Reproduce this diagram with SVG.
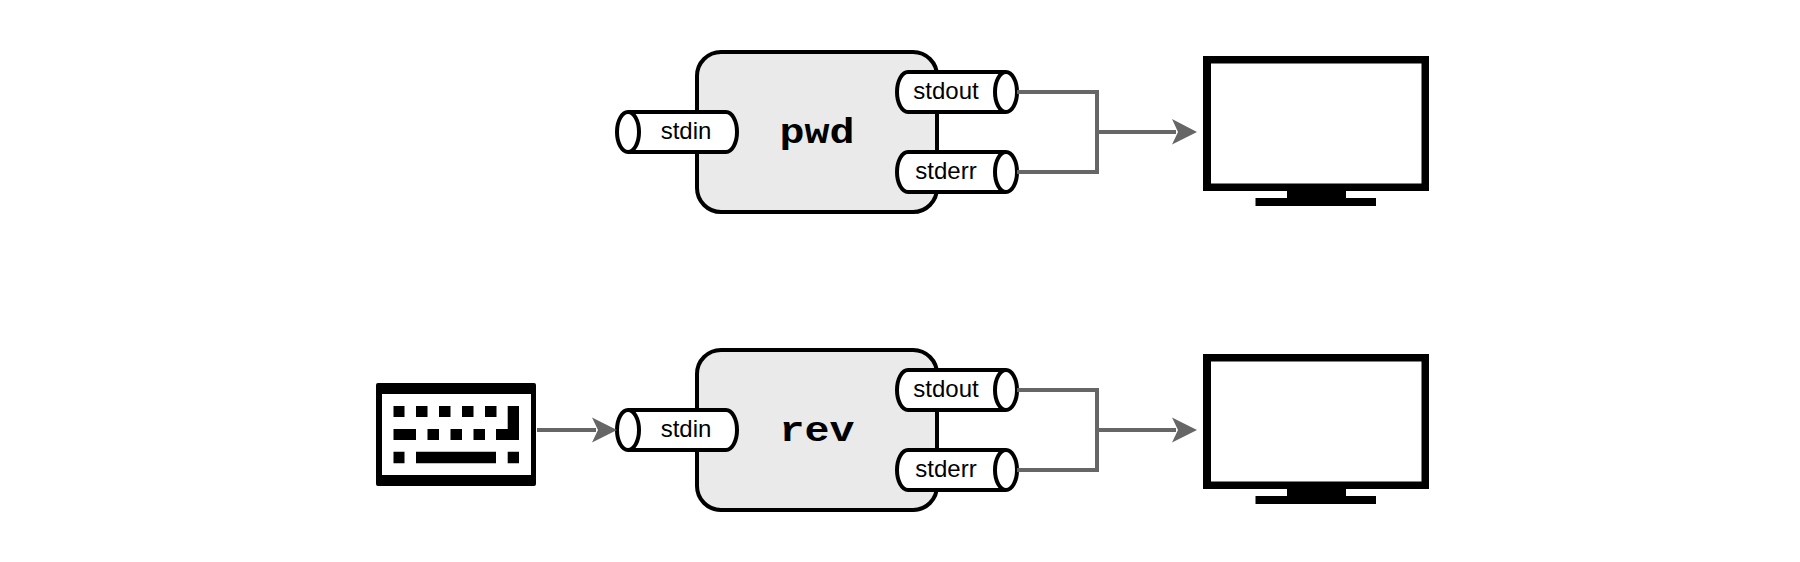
<svg xmlns="http://www.w3.org/2000/svg" width="1800" height="562" viewBox="0 0 1800 562">
<style>
.box{fill:#eaeaea;stroke:#000;stroke-width:4}
.cyl{fill:#fff;stroke:#000;stroke-width:4}
.lbl{font-family:"Liberation Sans",Arial,sans-serif;font-size:24px;fill:#000;text-anchor:middle}
.cmd{font-family:"Liberation Mono","Courier New",monospace;font-size:35px;font-weight:bold;fill:#000;text-anchor:middle}
.wire{fill:none;stroke:#666;stroke-width:4}
.solid{fill:#000;stroke:none}
.head{fill:#666;stroke:none}
</style>
<rect width="1800" height="562" fill="#fff"/>
<g id="pwd">
<rect class="box" x="697" y="52" width="240" height="160" rx="24" ry="24"/>
<text class="cmd" x="817" y="142.500" textLength="75" lengthAdjust="spacingAndGlyphs">pwd</text>
</g>
<g id="pwd-stdin">
<path class="cyl" d="M628 112H726A11 20 0 0 1 726 152H628"/>
<ellipse class="cyl" cx="628" cy="132" rx="11" ry="20"/>
<text class="lbl" x="686" y="139">stdin</text>
</g>
<g id="pwd-stdout">
<path class="cyl" d="M1006 72H908A11 20 0 0 0 908 112H1006"/>
<ellipse class="cyl" cx="1006" cy="92" rx="11" ry="20"/>
<text class="lbl" x="946" y="99">stdout</text>
</g>
<g id="pwd-stderr">
<path class="cyl" d="M1006 152H908A11 20 0 0 0 908 192H1006"/>
<ellipse class="cyl" cx="1006" cy="172" rx="11" ry="20"/>
<text class="lbl" x="946" y="179">stderr</text>
</g>
<g id="monitor-1">
<path class="solid" fill-rule="evenodd" d="M1203 56H1429V191H1346V198H1376V206H1255.500V198H1287V191H1203ZM1211 63.500V183.500H1421.500V63.500Z"/>
</g>
<g id="rev">
<rect class="box" x="697" y="350" width="240" height="160" rx="24" ry="24"/>
<text class="cmd" x="817" y="440.500" textLength="75" lengthAdjust="spacingAndGlyphs">rev</text>
</g>
<g id="rev-stdin">
<path class="cyl" d="M628 410H726A11 20 0 0 1 726 450H628"/>
<ellipse class="cyl" cx="628" cy="430" rx="11" ry="20"/>
<text class="lbl" x="686" y="437">stdin</text>
</g>
<g id="rev-stdout">
<path class="cyl" d="M1006 370H908A11 20 0 0 0 908 410H1006"/>
<ellipse class="cyl" cx="1006" cy="390" rx="11" ry="20"/>
<text class="lbl" x="946" y="397">stdout</text>
</g>
<g id="rev-stderr">
<path class="cyl" d="M1006 450H908A11 20 0 0 0 908 490H1006"/>
<ellipse class="cyl" cx="1006" cy="470" rx="11" ry="20"/>
<text class="lbl" x="946" y="477">stderr</text>
</g>
<g id="monitor-2">
<path class="solid" fill-rule="evenodd" d="M1203 354H1429V489H1346V496H1376V504H1255.500V496H1287V489H1203ZM1211 361.500V481.500H1421.500V361.500Z"/>
</g>
<g id="keyboard">
<path class="solid" fill-rule="evenodd" d="M378 383H534Q536 383 536 385V484Q536 486 534 486H378Q376 486 376 484V385Q376 383 378 383ZM382 394V475H531V394Z"/>
<path class="solid" d="M393.500 406h11v11h-11zM416 406h11.500v11H416zM439 406h11.500v11H439zM462 406h11.500v11H462zM485 406h11.500v11H485zM507.700 406H519V440H496V429H507.700zM393.500 429H416V440H393.500zM427.500 429H439V440H427.500zM450.500 429H462V440H450.500zM473.500 429H485V440H473.500zM393.500 451.700h11v11.500h-11zM416 451.700H496v11.500H416zM507.700 451.700H519v11.500H507.700z"/>
</g>
<g id="connectors">
<path class="wire" d="M1017 92H1097V172H1017"/>
<path class="wire" d="M1097 132H1176"/>
<path class="head" d="M1197 132L1172 119L1178 132L1172 144.500Z"/>
<path class="wire" d="M1017 390H1097V470H1017"/>
<path class="wire" d="M1097 430H1176"/>
<path class="head" d="M1197 430L1172 417.500L1178 430L1172 442.500Z"/>
<path class="wire" d="M537 430H596"/>
<path class="head" d="M617 430L592 417.500L598 430L592 442.500Z"/>
</g>
</svg>
